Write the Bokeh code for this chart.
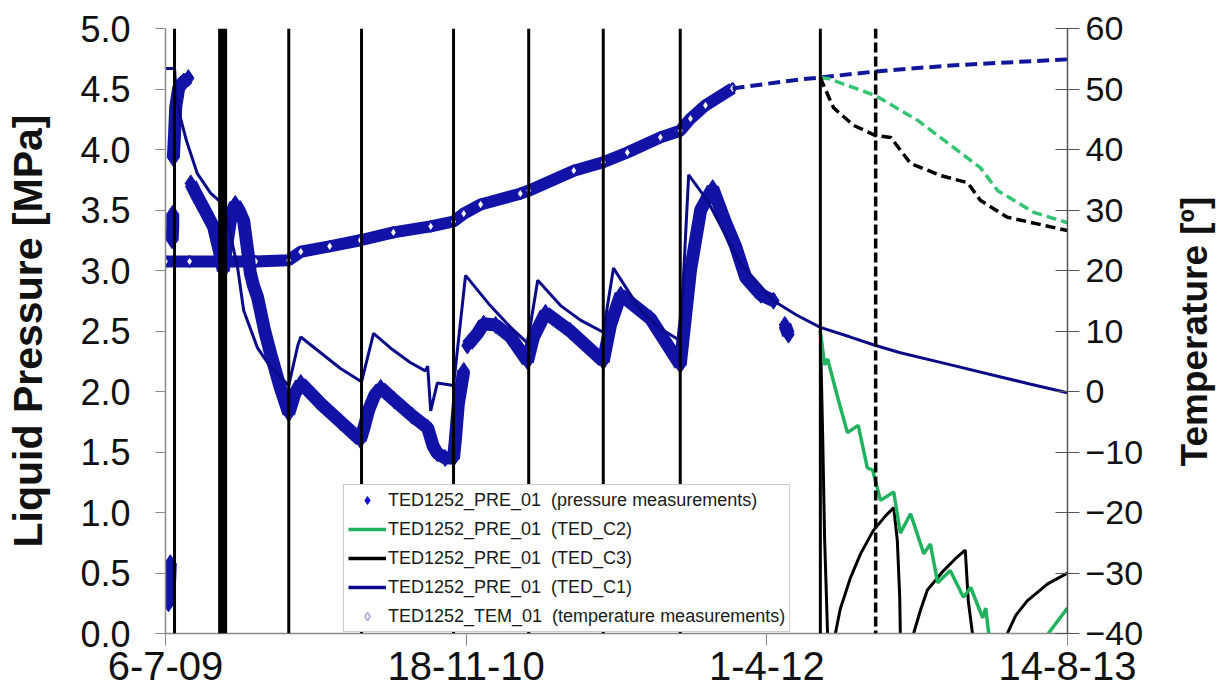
import math
from bokeh.plotting import figure
from bokeh.models import (Range1d, LinearAxis, FixedTicker, PrintfTickFormatter,
                          Legend, LegendItem, Span, Label)
from bokeh.embed import file_html
from bokeh.resources import INLINE

nan = float("nan")

# ---------------- data (x = days since 6-7-09) ----------------
x_tick_days = [0, 500, 1000, 1500]
x_tick_labels = ["6-7-09", "18-11-10", "1-4-12", "14-8-13"]
p_ticks = [0.0, 0.5, 1.0, 1.5, 2.0, 2.5, 3.0, 3.5, 4.0, 4.5, 5.0]
t_ticks = [-40, -30, -20, -10, 0, 10, 20, 30, 40, 50, 60]

event_days = [15, 205, 326, 479, 604, 728, 856, 1089]
major_event_days = [95]
dashed_event_days = [1181]

# pressure measurements (MPa)
pm_days = [5, 6, 7, 8, nan,
           11, 12, 12, nan,
           13, 15, 17, 22, 30, 38, nan,
           42, 52, 63, 80, 90, 96, 103, 110, 116, 122, 130, 137, 141,
           146, 153, 165, 175, 191, 205, 215, 225, 258, 291, 324,
           330, 338, 348, 358, 380, 410, 436, 445, 452, 465, 479,
           482, 487, 496, nan,
           502, 519, 529, 549, 574, 602, 612, 632, 673, 728,
           740, 757, 807, 856, 873, 890, 910, 931, 948, 965, 990, 1011, nan,
           1030, 1036]
pm_p = [0.25, 0.35, 0.45, 0.58, nan,
        3.25, 3.36, 3.47, nan,
        3.93, 4.12, 4.35, 4.51, 4.56, 4.59, nan,
        3.72, 3.62, 3.52, 3.36, 3.15, 3.00, 3.25, 3.48, 3.55, 3.50, 3.41, 3.15, 2.98,
        2.88, 2.78, 2.50, 2.31, 2.03, 1.82, 1.98, 2.07, 1.90, 1.75, 1.60,
        1.70, 1.85, 1.97, 2.03, 1.93, 1.80, 1.70, 1.55, 1.49, 1.45, 1.45,
        1.60, 1.90, 2.17, nan,
        2.38, 2.48, 2.56, 2.55, 2.45, 2.25, 2.45, 2.65, 2.50, 2.25,
        2.55, 2.80, 2.60, 2.22, 3.00, 3.50, 3.68, 3.40, 3.20, 2.94, 2.80, 2.75, nan,
        2.55, 2.47]

# TED_C1 predicted pressure (MPa)
c1_p_days = [0, 15, 18, 25, 35, 53, 75, 95, 103, 120, 130, 153, 175, 205,
             220, 225, 258, 291, 326, 346, 374, 407, 432, 436, 441, 452, 479,
             499, 540, 574, 602, 619, 657, 690, 728, 745, 790, 823, 856,
             870, 901, 956, 1011, 1050, 1089, 1139, 1181, 1222, 1306, 1389, 1439, 1500]
c1_p = [4.67, 4.67, 4.45, 4.26, 4.07, 3.80, 3.64, 3.55, 3.41, 3.02, 2.67, 2.36, 2.20, 2.05,
        2.38, 2.45, 2.32, 2.19, 2.08, 2.48, 2.36, 2.24, 2.17, 2.21, 1.84, 2.07, 2.05,
        2.96, 2.71, 2.53, 2.40, 2.92, 2.71, 2.59, 2.49, 3.02, 2.67, 2.52, 2.42,
        3.79, 3.58, 3.06, 2.75, 2.63, 2.53, 2.45, 2.38, 2.32, 2.22, 2.12, 2.06, 1.99]

# TED_C2 predicted pressure (MPa)
c2_p_days = [1089, 1096, 1101, 1119, 1134, 1152, 1167, 1176, 1189, 1211, 1222, 1239,
             1261, 1272, 1284, 1305, 1327, 1339, 1359, 1364, 1369, nan, 1468, 1500]
c2_p = [2.50, 2.22, 2.27, 1.93, 1.66, 1.72, 1.37, 1.35, 1.10, 1.17, 0.83, 0.99,
        0.66, 0.74, 0.42, 0.52, 0.30, 0.38, 0.13, 0.21, 0.00, nan, 0.00, 0.21]

# TED_C3 predicted pressure (MPa)
c3_p_days = [1089, 1093, 1096, 1101, nan,
             1114, 1122, 1139, 1156, 1177, 1197, 1211, 1217, 1221, 1222, nan,
             1244, 1256, 1267, 1294, 1314, 1330, 1335, 1342, nan,
             1400, 1414, 1433, 1467, 1500]
c3_p = [2.50, 1.60, 0.80, 0.00, nan,
        0.00, 0.20, 0.46, 0.66, 0.85, 0.97, 1.04, 0.77, 0.30, 0.00, nan,
        0.00, 0.20, 0.36, 0.52, 0.62, 0.69, 0.27, 0.00, nan,
        0.00, 0.15, 0.27, 0.41, 0.50]

# temperature measurements (deg C)
tm_days = [0, 40, 95, 150, 205, 225, 273, 324, 379, 441, 479, 496, 524, 590, 604,
           679, 728, 768, 823, 856, 873, 898, 943]
tm_c = [21.5, 21.5, 21.5, 21.5, 21.7, 23.1, 24.0, 25.0, 26.3, 27.3, 28.1, 29.4, 30.9, 32.7, 33.2,
        36.5, 37.9, 39.5, 42.0, 43.1, 45.1, 47.3, 50.1]

# predicted temperatures (deg C)
c1_t_days = [943, 1056, 1089, 1181, 1306, 1500]
c1_t = [50.1, 51.6, 51.9, 52.9, 53.9, 54.9]
c2_t_days = [1089, 1103, 1181, 1251, 1355, 1384, 1444, 1500]
c2_t = [51.9, 51.7, 48.9, 44.8, 37.0, 33.2, 29.6, 27.9]
c3_t_days = [1089, 1093, 1111, 1144, 1181, 1206, 1239, 1289, 1334, 1355, 1400, 1500]
c3_t = [51.9, 50.9, 46.9, 44.0, 42.3, 42.0, 37.7, 35.7, 34.5, 31.6, 28.8, 26.6]

legend_labels = ["TED1252_PRE_01  (pressure measurements)",
                 "TED1252_PRE_01  (TED_C2)",
                 "TED1252_PRE_01  (TED_C3)",
                 "TED1252_PRE_01  (TED_C1)",
                 "TED1252_TEM_01  (temperature measurements)"]
left_title = "Liquid Pressure [MPa]"
right_title = "Temperature [º]"

# ---------------- styling ----------------
NAVY_MEAS = "#1212a6"
NAVY_LINE = "#0b0b8a"
NAVY_DASH = "#10169a"
GREEN = "#21b25f"
GREEN_DASH = "#35c473"
FONT = "Liberation Sans"

p = figure(frame_width=902, frame_height=605,
           x_range=Range1d(0, 1500), y_range=Range1d(0, 5),
           output_backend="svg", toolbar_location=None,
           min_border_left=165, min_border_right=153,
           min_border_top=28, min_border_bottom=65)
p.extra_y_ranges = {"temp": Range1d(-40, 60)}
p.outline_line_color = None
p.xgrid.visible = False
p.ygrid.visible = False
p.background_fill_color = "white"
p.border_fill_color = "white"

# event lines
for d in event_days:
    p.add_layout(Span(location=d, dimension="height", line_color="black", line_width=3))
for d in major_event_days:
    p.add_layout(Span(location=d, dimension="height", line_color="black", line_width=9))
for d in dashed_event_days:
    p.add_layout(Span(location=d, dimension="height", line_color="black", line_width=3.5,
                      line_dash="10 4"))

# temperature measurements (right axis)
p.line(tm_days, tm_c, y_range_name="temp", line_color=NAVY_MEAS, line_width=12)
p.scatter(tm_days, tm_c, y_range_name="temp", marker="diamond", size=11,
          fill_color="#f4f4ff", line_color=NAVY_MEAS, line_width=2)

# predicted temperatures (dashed)
p.line(c1_t_days, c1_t, y_range_name="temp", line_color=NAVY_DASH, line_width=4, line_dash="12 6")
p.line(c2_t_days, c2_t, y_range_name="temp", line_color=GREEN_DASH, line_width=3.5, line_dash="10 5")
p.line(c3_t_days, c3_t, y_range_name="temp", line_color="black", line_width=3.5, line_dash="10 5")

# pressure measurements
p.line(pm_days, pm_p, line_color=NAVY_MEAS, line_width=13)
p.scatter(pm_days, pm_p, marker="diamond", size=17, fill_color=NAVY_MEAS, line_color=NAVY_MEAS)

# predictions (pressure)
p.line(c3_p_days, c3_p, line_color="black", line_width=3)
p.line(c2_p_days, c2_p, line_color=GREEN, line_width=3.5)
p.line(c1_p_days, c1_p, line_color=NAVY_LINE, line_width=3)

# legend proxies (one NaN point each, never visible in the plot)
lg_pm = p.scatter([nan], [nan], marker="diamond", size=9, fill_color="#1010d0", line_color="#1010d0")
lg_c2 = p.line([nan], [nan], line_color=GREEN, line_width=3.5)
lg_c3 = p.line([nan], [nan], line_color="black", line_width=3.5)
lg_c1 = p.line([nan], [nan], line_color=NAVY_LINE, line_width=3.5)
lg_tm = p.scatter([nan], [nan], marker="diamond", size=9, fill_color="white", line_color="#a8a8d8",
                  line_width=1.5)

legend = Legend(items=[LegendItem(label=legend_labels[0], renderers=[lg_pm]),
                       LegendItem(label=legend_labels[1], renderers=[lg_c2]),
                       LegendItem(label=legend_labels[2], renderers=[lg_c3]),
                       LegendItem(label=legend_labels[3], renderers=[lg_c1]),
                       LegendItem(label=legend_labels[4], renderers=[lg_tm])],
                location=(178, 1))
legend.label_text_font = FONT
legend.label_text_font_size = "18px"
legend.label_text_color = "#1a1a1a"
legend.glyph_width = 38
legend.glyph_height = 20
legend.label_height = 22
legend.label_standoff = 2
legend.spacing = 7
legend.padding = 4
legend.margin = 0
legend.border_line_color = "#9a9a9a"
legend.border_line_width = 1.5
legend.background_fill_color = "white"
legend.background_fill_alpha = 1.0
p.add_layout(legend)

# axes
xa = p.xaxis[0]
xa.ticker = FixedTicker(ticks=x_tick_days)
xa.major_label_overrides = {d: lab for d, lab in zip(x_tick_days, x_tick_labels)}
xa.major_label_text_font = FONT
xa.major_label_text_font_size = "40px"
xa.major_label_text_color = "#111111"
xa.major_tick_out = 12
xa.major_tick_in = 0
xa.minor_tick_line_color = None
xa.axis_line_color = "#8a8a8a"
xa.major_tick_line_color = "#8a8a8a"
xa.axis_line_width = 1.5
xa.major_label_standoff = 6

ya = p.yaxis[0]
ya.ticker = FixedTicker(ticks=p_ticks)
ya.formatter = PrintfTickFormatter(format="%.1f")
ya.major_label_text_font = FONT
ya.major_label_text_font_size = "36px"
ya.major_label_text_color = "#111111"
ya.major_tick_out = 10
ya.major_tick_in = 0
ya.minor_tick_line_color = None
ya.axis_line_color = "#8a8a8a"
ya.major_tick_line_color = "#8a8a8a"
ya.axis_line_width = 1.5
ya.major_label_standoff = 25
ya.axis_label = left_title
ya.axis_label_text_font = FONT
ya.axis_label_text_font_style = "bold"
ya.axis_label_text_font_size = "41px"
ya.axis_label_text_color = "#111111"
ya.axis_label_standoff = 26

ra = LinearAxis(y_range_name="temp", ticker=FixedTicker(ticks=t_ticks))
ra.major_label_text_font = FONT
ra.major_label_text_font_size = "34px"
ra.major_label_text_color = "#111111"
ra.major_tick_out = 12
ra.major_tick_in = 12
ra.minor_tick_line_color = None
ra.axis_line_color = "#555555"
ra.major_tick_line_color = "#555555"
ra.axis_line_width = 1.5
ra.major_label_standoff = 6
p.add_layout(ra, "right")

# right-hand axis title, reading bottom-to-top, in its own side panel
rlab = Label(x=48, y=302, x_units="screen", y_units="screen", text=right_title,
             angle=math.pi / 2, text_align="center", text_baseline="middle",
             text_font=FONT, text_font_style="bold", text_font_size="37px",
             text_color="#111111")
p.add_layout(rlab, "right")

open("out.html", "w").write(file_html(p, INLINE))
